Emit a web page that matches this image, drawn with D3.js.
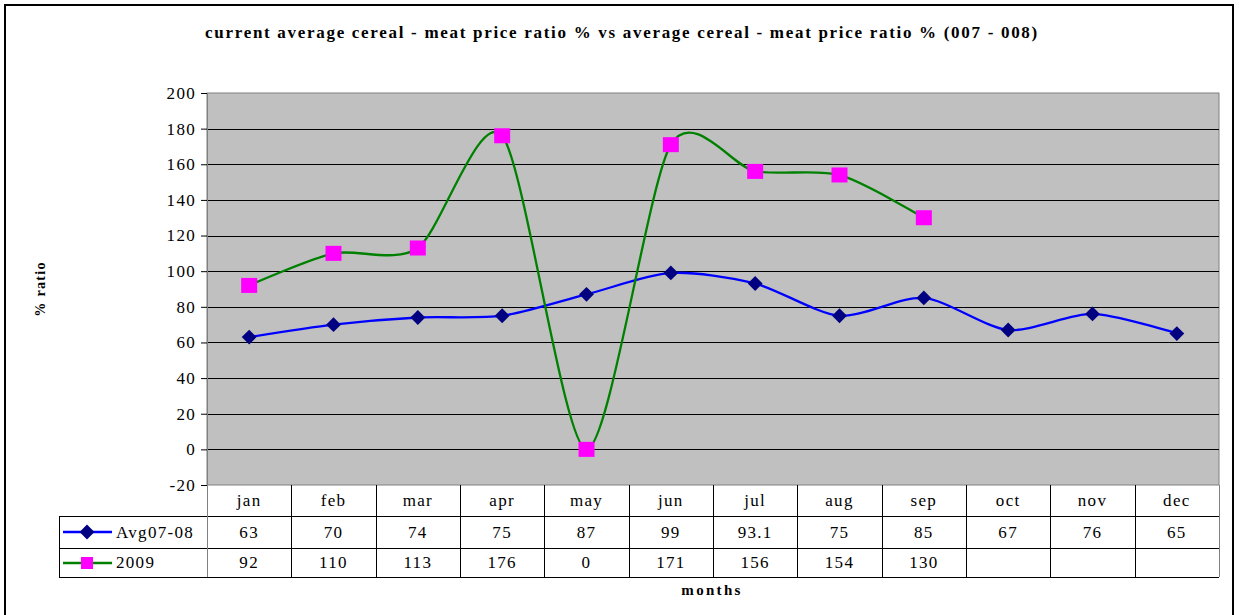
<!DOCTYPE html>
<html>
<head>
<meta charset="utf-8">
<style>
  body { margin: 0; background: #fff; }
</style>
</head>
<body>
<svg width="1239" height="615"></svg>
<script src="https://d3js.org/d3.v7.min.js"></script>
<script>
var months = ["jan", "feb", "mar", "apr", "may", "jun", "jul", "aug", "sep", "oct", "nov", "dec"];
var avgLabels = ["63", "70", "74", "75", "87", "99", "93.1", "75", "85", "67", "76", "65"];
var avg0708 = [63, 70, 74, 75, 87, 99, 93.1, 75, 85, 67, 76, 65];
var y2009 = [92, 110, 113, 176, 0, 171, 156, 154, 130];
var yTicks = [-20, 0, 20, 40, 60, 80, 100, 120, 140, 160, 180, 200];

var serif = "'Liberation Serif', 'Times New Roman', serif";

var svg = d3.select("svg"),
    plot = { left: 207, right: 1219, top: 93, bottom: 485 },
    width = plot.right - plot.left,
    height = plot.bottom - plot.top;

// outer frame
svg.append("rect")
    .attr("x", 5).attr("y", 5)
    .attr("width", 1228).attr("height", 620)
    .attr("fill", "#fff")
    .attr("stroke", "#000")
    .attr("stroke-width", 2);

svg.append("text")
    .attr("x", 622).attr("y", 38)
    .attr("text-anchor", "middle")
    .style("font-family", serif)
    .style("font-size", "17px")
    .style("font-weight", "bold")
    .style("letter-spacing", "1.7px")
    .text("current average cereal - meat price ratio % vs average cereal - meat price ratio % (007 - 008)");

var x = d3.scaleBand().domain(months).range([plot.left, plot.right]);
var y = d3.scaleLinear().domain([-20, 200]).range([plot.bottom, plot.top]);

var g = svg.append("g");

g.append("rect")
    .attr("x", plot.left).attr("y", plot.top)
    .attr("width", width).attr("height", height)
    .attr("fill", "#c0c0c0")
    .attr("stroke", "#808080")
    .attr("stroke-width", 1);

// gridlines
g.selectAll(".grid")
    .data(yTicks.filter(function (d) { return d > -20 && d < 200; }))
    .enter().append("line")
    .attr("x1", plot.left).attr("x2", plot.right)
    .attr("y1", function (d) { return Math.round(y(d)) + 0.5; })
    .attr("y2", function (d) { return Math.round(y(d)) + 0.5; })
    .attr("stroke", "#000")
    .attr("stroke-width", 1);

// y axis
var yAxis = g.append("g")
    .attr("transform", "translate(" + plot.left + ",0)")
    .call(d3.axisLeft(y).tickValues(yTicks).tickSize(6).tickPadding(5).tickSizeOuter(0)
        .tickFormat(function (d) { return String(d); }));
yAxis.select(".domain").attr("stroke", "#808080");
yAxis.selectAll("text")
    .style("font-family", serif)
    .style("font-size", "17px")
    .style("letter-spacing", "1.3px")
    .attr("fill", "#000");

svg.append("text")
    .attr("transform", "translate(45,289) rotate(-90)")
    .attr("text-anchor", "middle")
    .style("font-family", serif)
    .style("font-size", "14px")
    .style("font-weight", "bold")
    .style("letter-spacing", "1.3px")
    .text("% ratio");

var line = d3.line()
    .x(function (d, i) { return x(months[i]) + x.bandwidth() / 2; })
    .y(function (d) { return y(d); })
    .curve(d3.curveCardinal.tension(0.2));

g.append("path")
    .datum(avg0708)
    .attr("fill", "none")
    .attr("stroke", "#0000ff")
    .attr("stroke-width", 2.3)
    .attr("d", line);

g.append("path")
    .datum(y2009)
    .attr("fill", "none")
    .attr("stroke", "#008000")
    .attr("stroke-width", 2.3)
    .attr("d", line);

var diamond = d3.symbol().type(d3.symbolDiamond2).size(140);

g.selectAll(".avgPt")
    .data(avg0708)
    .enter().append("path")
    .attr("transform", function (d, i) { return "translate(" + (x(months[i]) + x.bandwidth() / 2) + "," + y(d) + ")"; })
    .attr("d", diamond)
    .attr("fill", "#000080");

g.selectAll(".pt09")
    .data(y2009)
    .enter().append("rect")
    .attr("x", function (d, i) { return x(months[i]) + x.bandwidth() / 2 - 8; })
    .attr("y", function (d) { return y(d) - 7.5; })
    .attr("width", 16).attr("height", 15)
    .attr("fill", "#ff00ff");

// data table
var rows = [plot.bottom, 516, 548, 577];
var tbl = svg.append("g").attr("stroke", "#000").attr("stroke-width", 1);

rows.slice(1).forEach(function (r) {
    tbl.append("line")
        .attr("x1", 59).attr("x2", plot.right)
        .attr("y1", r + 0.5).attr("y2", r + 0.5);
});
tbl.append("line").attr("x1", 59.5).attr("x2", 59.5).attr("y1", rows[1]).attr("y2", rows[3]);
months.concat(["end"]).forEach(function (m, i) {
    var xx = i < 12 ? x(m) : plot.right;
    tbl.append("line")
        .attr("x1", Math.round(xx) + 0.5).attr("x2", Math.round(xx) + 0.5)
        .attr("y1", rows[0]).attr("y2", rows[3])
        .attr("stroke", (i === 0 || i === 12) ? "#808080" : "#000");
});

function cellText(data, yy) {
    svg.append("g").selectAll("text")
        .data(data)
        .enter().append("text")
        .attr("x", function (d, i) { return x(months[i]) + x.bandwidth() / 2; })
        .attr("y", yy)
        .attr("text-anchor", "middle")
        .style("font-family", serif)
        .style("font-size", "17px")
        .style("letter-spacing", "1.3px")
        .text(function (d) { return d; });
}
cellText(months, 506);
cellText(avgLabels, 538);
cellText(y2009, 568);

// legend keys in the table
svg.append("line").attr("x1", 63).attr("x2", 112).attr("y1", 532).attr("y2", 532)
    .attr("stroke", "#0000ff").attr("stroke-width", 2.5);
svg.append("path").attr("transform", "translate(87,532)").attr("d", diamond).attr("fill", "#000080");
svg.append("text").attr("x", 116).attr("y", 538)
    .style("font-family", serif).style("font-size", "17px").style("letter-spacing", "1.3px")
    .text("Avg07-08");

svg.append("line").attr("x1", 63).attr("x2", 112).attr("y1", 563).attr("y2", 563)
    .attr("stroke", "#008000").attr("stroke-width", 2.5);
svg.append("rect").attr("x", 81).attr("y", 557).attr("width", 12).attr("height", 12).attr("fill", "#ff00ff");
svg.append("text").attr("x", 116).attr("y", 568)
    .style("font-family", serif).style("font-size", "17px").style("letter-spacing", "1.3px")
    .text("2009");

svg.append("text")
    .attr("x", 712).attr("y", 595)
    .attr("text-anchor", "middle")
    .style("font-family", serif)
    .style("font-size", "15px")
    .style("font-weight", "bold")
    .style("letter-spacing", "2.3px")
    .text("months");
</script>
</body>
</html>
